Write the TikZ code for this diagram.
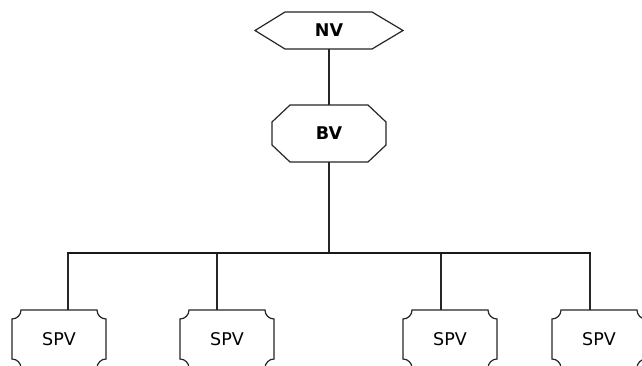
\documentclass[tikz,border=0pt]{standalone}
\usepackage{fontspec}
\setmainfont{DejaVu Sans}
\begin{document}
\begin{tikzpicture}[x=1pt,y=1pt,
  thinline/.style={line width=1.2pt,draw=black!85},
  busline/.style={line width=2.8pt,draw=black!90},
  boxnode/.style={inner sep=0pt,outer sep=0pt,font=\fontsize{17.5}{17.5}\selectfont},
  topbox/.style={boxnode,font=\fontsize{17.5}{17.5}\selectfont\bfseries},
  spvbox/.style={boxnode,minimum width=94pt,minimum height=58pt}]
\useasboundingbox (0,0) rectangle (642,-365);
\clip (0,0) rectangle (642,-365);
\fill[white] (0,0) rectangle (642,-365);

% nodes
\node[topbox,minimum width=148pt,minimum height=37pt] (nv) at (329,-30.5) {NV};
\node[topbox,minimum width=114pt,minimum height=57pt] (bv) at (329,-133.5) {BV};
\node[spvbox] (s1) at (59,-339) {SPV};
\node[spvbox] (s2) at (227,-339) {SPV};
\node[spvbox] (s3) at (450,-339) {SPV};
\node[spvbox] (s4) at (599,-339) {SPV};

% shapes
\draw[thinline] (nv.west) -- ([xshift=30pt]nv.north west) -- ([xshift=-31pt]nv.north east)
  -- (nv.east) -- ([xshift=-31pt]nv.south east) -- ([xshift=30pt]nv.south west) -- cycle;
\draw[thinline] ([xshift=18pt]bv.north west) -- ([xshift=-18pt]bv.north east)
  -- ([yshift=-17pt]bv.north east) -- ([yshift=17pt]bv.south east)
  -- ([xshift=-18pt]bv.south east) -- ([xshift=18pt]bv.south west)
  -- ([yshift=17pt]bv.south west) -- ([yshift=-17pt]bv.north west) -- cycle;
\foreach \n in {s1,s2,s3,s4}{
  \draw[thinline] ([xshift=9pt]\n.north west) -- ([xshift=-9pt]\n.north east)
    arc[start angle=180,end angle=270,radius=9pt] -- ([yshift=9pt]\n.south east)
    arc[start angle=90,end angle=180,radius=9pt] -- ([xshift=9pt]\n.south west)
    arc[start angle=0,end angle=90,radius=9pt] -- ([yshift=-9pt]\n.north west)
    arc[start angle=270,end angle=360,radius=9pt] -- cycle;
}

% connectors
\coordinate (bus) at (329,-253);
\coordinate (b1) at (68,-253);
\coordinate (b2) at (217,-253);
\coordinate (b3) at (441,-253);
\coordinate (b4) at (590,-253);
\draw[thinline] (nv.south) -- (bv.north);
\draw[thinline] (bv.south) -- (bus);
\draw[thinline] (b1) -- (b1 |- s1.north);
\draw[thinline] (b2) -- (b2 |- s2.north);
\draw[thinline] (b3) -- (b3 |- s3.north);
\draw[thinline] (b4) -- (b4 |- s4.north);
\draw[busline] ([xshift=-0.6pt]b1) -- ([xshift=0.6pt]b4);
\end{tikzpicture}
\end{document}
